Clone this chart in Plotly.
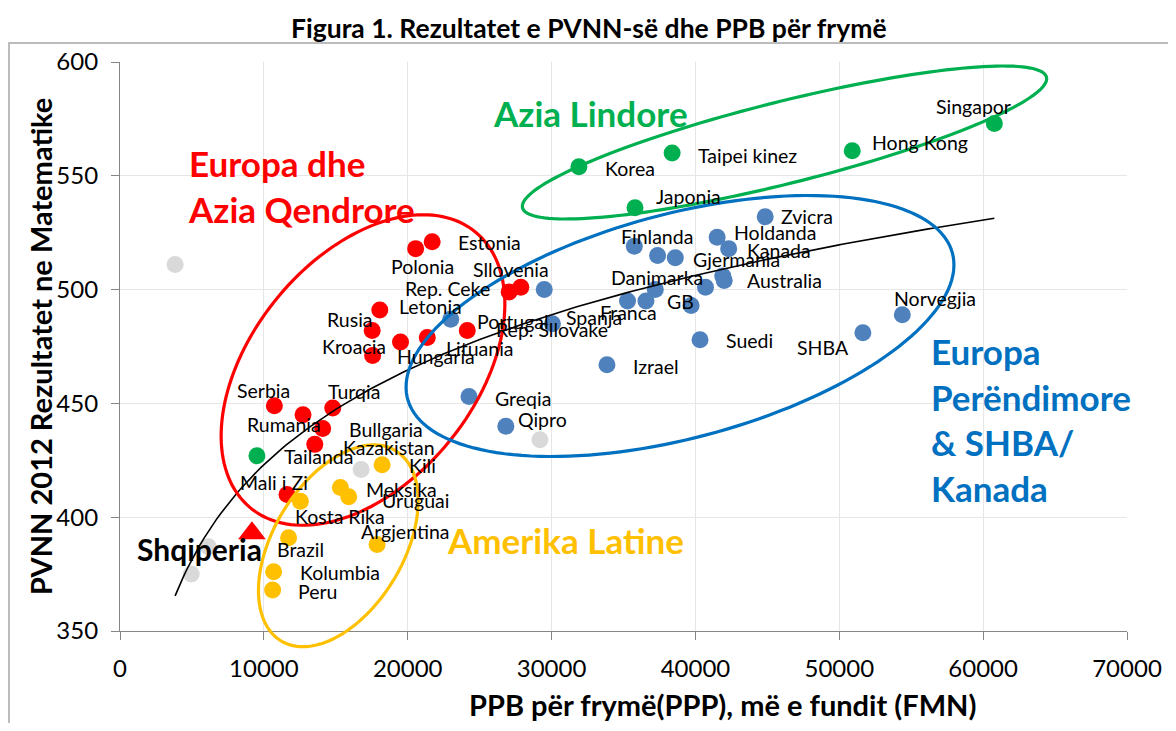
import numpy as np
import plotly.graph_objects as go

# ---------------- data ----------------
red_names = ["Estonia", "Polonia", "Sllovenia", "Rep. Ceke", "Letonia", "Rusia", "Kroacia", "Hungaria",
             "Lituania", "Rep. Sllovake", "Serbia", "Rumania", "Turqia", "Bullgaria", "Kazakistan", "Mali i Zi"]
red_x = [21700, 20550, 27860, 27050, 18060, 17530, 17560, 19500, 21360, 24140, 10730, 12720, 14790, 14090, 13540, 11610]
red_y = [521, 518, 501, 499, 491, 482, 471, 477, 479, 482, 449, 445, 448, 439, 432, 410]

green_names = ["Tailanda", "Korea", "Taipei kinez", "Japonia", "Hong Kong", "Singapor"]
green_x = [9520, 31900, 38380, 35800, 50900, 60780]
green_y = [427, 554, 560, 536, 561, 573]

yellow_names = ["Kili", "Meksika", "Uruguai", "Kosta Rika", "Brazil", "Argjentina", "Kolumbia", "Peru"]
yellow_x = [18220, 15320, 15900, 12540, 11720, 17870, 10680, 10610]
yellow_y = [423, 413, 409, 407, 391, 388, 376, 368]

blue_names = ["Greqia", "Qipro", "", "Spanja", "Portugal", "Izrael", "Finlanda", "", "Gjermania", "Danimarka",
              "Franca", "GB", "", "", "", "Australia", "Holdanda", "Kanada", "Zvicra", "Suedi", "SHBA", "Norvegjia"]
blue_x = [24260, 26820, 29490, 30060, 22990, 33850, 35750, 37370, 38600, 37210,
          35280, 36560, 39700, 40700, 41900, 42000, 41510, 42310, 44850, 40320, 51640, 54380]
blue_y = [453, 440, 500, 485, 487, 467, 519, 515, 514, 500,
          495, 495, 493, 501, 506, 504, 523, 518, 532, 478, 481, 489]

gray_x = [3830, 4950, 6140, 16760, 29190]
gray_y = [511, 375, 387, 421, 434]

alb_name = ["Shqiperia"]
alb_x = [9170]
alb_y = [393]

x_ticks = [0, 10000, 20000, 30000, 40000, 50000, 60000, 70000]
y_ticks = [350, 400, 450, 500, 550, 600]

# ---------------- layout / style ----------------
# the page body has an 8px margin, so the figure is drawn 8px in from the window corner
BODY = 8
W, H = 1176 - 2 * BODY, 731 - 2 * BODY
PLOT_L, PLOT_R, PLOT_T, PLOT_B = 120, 1127, 62, 631   # plot area in window pixels
ML, MT = PLOT_L - BODY, PLOT_T - BODY
PW, PH = PLOT_R - PLOT_L, PLOT_B - PLOT_T
MR, MB = W - ML - PW, H - MT - PH
FONT = "Lato"

C_RED, C_GREEN, C_YEL, C_BLUE_PT, C_BLUE_LN, C_GRAY = "#FF0000", "#00B050", "#FFC000", "#4F81BD", "#0070C0", "#D9D9D9"

# label offsets (px, right / down) relative to their point
label_off = {
    "Estonia": (57, 1), "Polonia": (7, 18), "Sllovenia": (-10, -18), "Rep. Ceke": (-62, -3),
    "Letonia": (51, -4), "Rusia": (-22, -11), "Kroacia": (-19, -9), "Hungaria": (35, 15),
    "Lituania": (53, 11), "Rep. Sllovake": (85, -1), "Serbia": (-11, -15), "Rumania": (-19, 10),
    "Turqia": (21, -16), "Bullgaria": (63, 1), "Kazakistan": (74, 3), "Mali i Zi": (-13, -12),
    "Tailanda": (62, 1), "Korea": (51, 2), "Taipei kinez": (75, 2), "Japonia": (53, -11),
    "Hong Kong": (68, -8), "Singapor": (-21, -17),
    "Kili": (40, 1), "Meksika": (61, 2), "Uruguai": (67, 4), "Kosta Rika": (40, 15),
    "Brazil": (12, 12), "Argjentina": (28, -13), "Kolumbia": (66, 1), "Peru": (45, 1),
    "Greqia": (54, 2), "Qipro": (37, -7), "Spanja": (42, -6), "Portugal": (62, 2),
    "Izrael": (49, 2), "Finlanda": (23, -10), "Gjermania": (61, 2), "Danimarka": (2, -12),
    "Franca": (1, 12), "GB": (35, 1), "Australia": (60, 0), "Holdanda": (58, -5),
    "Kanada": (50, 2), "Zvicra": (42, 0), "Suedi": (49, 1), "SHBA": (-40, 15), "Norvegjia": (33, -16),
    "Shqiperia": (-52, 16),
}


def px2paper(px, py):
    """window pixel -> paper coordinates"""
    return (px - PLOT_L) / PW, (PLOT_B - py) / PH


fig = go.Figure()

MS = 17
for xs, ys, col in [(gray_x, gray_y, C_GRAY), (blue_x, blue_y, C_BLUE_PT), (red_x, red_y, C_RED),
                    (yellow_x, yellow_y, C_YEL), (green_x, green_y, C_GREEN)]:
    fig.add_trace(go.Scatter(x=xs, y=ys, mode="markers",
                             marker=dict(color=col, size=MS, line=dict(width=0)),
                             showlegend=False, hoverinfo="skip", cliponaxis=False))

fig.add_trace(go.Scatter(x=alb_x, y=alb_y, mode="markers",
                         marker=dict(color=C_RED, size=24, symbol="triangle-up", line=dict(width=0)),
                         showlegend=False, hoverinfo="skip"))

# logarithmic trend line fitted to all countries
all_x = np.array(red_x + green_x + yellow_x + blue_x + gray_x + alb_x, dtype=float)
all_y = np.array(red_y + green_y + yellow_y + blue_y + gray_y + alb_y, dtype=float)
a, b = np.polyfit(np.log(all_x), all_y, 1)
tx = np.linspace(all_x.min(), all_x.max(), 200)
fig.add_trace(go.Scatter(x=tx, y=a * np.log(tx) + b, mode="lines",
                         line=dict(color="black", width=1.6), showlegend=False, hoverinfo="skip"))

# ellipses around the regional groups (window-pixel geometry)
ellipses = [
    ((363, 370), 178, 112, 51, C_RED),
    ((680, 326), 282, 112, 15, C_BLUE_LN),
    ((784.5, 142.5), 270, 41, 14, C_GREEN),
    ((338.3, 545.8), 111, 65, 59, C_YEL),
]
shapes = []
t = np.linspace(0, 2 * np.pi, 160)
for (cx, cy), ra, rb, ang, col in ellipses:
    ph = np.deg2rad(ang)
    px = cx + ra * np.cos(t) * np.cos(ph) - rb * np.sin(t) * np.sin(ph)
    py = cy - (ra * np.cos(t) * np.sin(ph) + rb * np.sin(t) * np.cos(ph))
    pts = [px2paper(u, v) for u, v in zip(px, py)]
    path = "M " + " L ".join(f"{u:.5f},{v:.5f}" for u, v in pts) + " Z"
    shapes.append(dict(type="path", path=path, xref="paper", yref="paper",
                       line=dict(color=col, width=3.2), layer="above"))

# outer chart frame
fx0, fy0 = px2paper(9, 43)
fx1, fy1 = px2paper(1190, 729)
shapes.append(dict(type="rect", xref="paper", yref="paper", x0=fx0, y0=fy1, x1=fx1, y1=fy0,
                   line=dict(color="#A6A6A6", width=1.5), layer="below"))

annotations = []
LBL = 19.5
for names, xs, ys in [(red_names, red_x, red_y), (green_names, green_x, green_y),
                      (yellow_names, yellow_x, yellow_y), (blue_names, blue_x, blue_y)]:
    for n, xv, yv in zip(names, xs, ys):
        if not n:
            continue
        dx, dy = label_off[n]
        annotations.append(dict(x=xv, y=yv, xref="x", yref="y", text=n, showarrow=False,
                                xanchor="center", yanchor="middle",
                                xshift=dx, yshift=-dy, font=dict(family=FONT, size=LBL, color="black")))

dx, dy = label_off["Shqiperia"]
annotations.append(dict(x=alb_x[0], y=alb_y[0], xref="x", yref="y", text="<b>Shqiperia</b>", showarrow=False,
                        xanchor="center", yanchor="middle",
                        xshift=dx, yshift=-dy, font=dict(family=FONT, size=30, color="black")))


def region(text, px, py, col, anchor="center"):
    u, v = px2paper(px, py)
    annotations.append(dict(x=u, y=v, xref="paper", yref="paper", text=text, showarrow=False,
                            xanchor=anchor, yanchor="middle", align="left",
                            font=dict(family=FONT, size=35, color=col)))


region("<b>Europa dhe<br>Azia Qendrore</b>", 186, 186, C_RED, "left")
region("<b>Azia Lindore</b>", 590, 113, C_GREEN)
region("<b>Amerika Latine</b>", 565, 540, C_YEL)
region("<b>Europa<br>Perëndimore<br>&amp; SHBA/<br>Kanada</b>", 929, 419, C_BLUE_LN, "left")


def text_at(text, px, py, size, angle=0):
    u, v = px2paper(px, py)
    annotations.append(dict(x=u, y=v, xref="paper", yref="paper", showarrow=False, textangle=angle,
                            xanchor="center", yanchor="middle", text=text,
                            font=dict(family=FONT, size=size, color="black")))


text_at("<b>Figura 1. Rezultatet e PVNN-së dhe PPB për frymë</b>", 589, 28, 26.5)
text_at("<b>PPB për frymë(PPP), më e fundit (FMN)</b>", 722, 704, 29)
text_at("<b>PVNN 2012 Rezultatet ne Matematike</b>", 40, 347, 29, -90)

axis_common = dict(showgrid=True, gridcolor="#E6E6E6", gridwidth=1, showline=True, linecolor="#868686",
                   linewidth=1.2, ticks="outside", ticklen=8, tickcolor="#868686", zeroline=False,
                   automargin=False, tickfont=dict(family=FONT, size=24, color="black"))

fig.update_layout(
    width=W, height=H, autosize=False,
    margin=dict(l=ML, r=MR, t=MT, b=MB),
    paper_bgcolor="white", plot_bgcolor="white",
    xaxis=dict(range=[0, 70000], tickvals=x_ticks, ticktext=[str(v) for v in x_ticks],
               ticklabelstandoff=8, **axis_common),
    yaxis=dict(range=[350, 600], tickvals=y_ticks, ticktext=[str(v) for v in y_ticks],
               ticklabelstandoff=8, **axis_common),
    shapes=shapes, annotations=annotations, showlegend=False,
)

fig.write_html("out.html")
